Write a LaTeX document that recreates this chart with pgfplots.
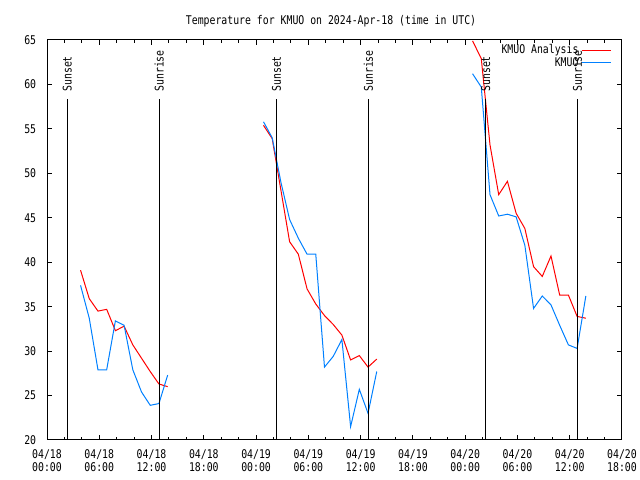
\documentclass[border=0pt]{standalone}
\usepackage{pgfplots}
\pgfplotsset{compat=1.18}
\usepackage{fontspec}
\newfontfamily\gp[FakeStretch=0.82]{DejaVu Sans Mono}
\newcommand\gpf{\gp\fontsize{7.2}{7.8}\selectfont}
\definecolor{gpred}{RGB}{255,0,0}
\definecolor{gpblue}{RGB}{0,128,255}
\begin{document}
\begin{tikzpicture}
\path[use as bounding box] (0,0) rectangle (384pt,288pt);
\begin{axis}[
  at={(28.2pt,24pt)}, anchor=south west,
  scale only axis, width=345pt, height=240pt,
  xmin=0, xmax=66, ymin=20, ymax=65,
  axis line style={line width=0.6pt},
  xtick={0,6,...,66},
  xticklabels={{04/18\\00:00},{04/18\\06:00},{04/18\\12:00},{04/18\\18:00},{04/19\\00:00},{04/19\\06:00},{04/19\\12:00},{04/19\\18:00},{04/20\\00:00},{04/20\\06:00},{04/20\\12:00},{04/20\\18:00}},
  minor xtick={0,2,...,66},
  ytick={20,25,...,65},
  tick align=inside,
  tick pos=both,
  major tick length=3pt, minor tick length=1.8pt,
  tick style={line width=0.6pt, black},
  xticklabel style={font=\gpf, align=center, yshift=-2.2pt},
  yticklabel style={font=\gpf, xshift=-3pt},
  /pgf/number format/assume math mode=true,
  title={Temperature for KMUO on 2024-Apr-18 (time in UTC)},
  title style={font=\gpf, at={(0.494,1)}, anchor=center, yshift=5.4pt},
  legend style={font=\gpf, at={(0.982,0.998)}, anchor=north east, draw=none, fill=none, inner sep=0pt, row sep=-3.4pt, legend cell align=right},
  legend plot pos=right,
  clip=true,
]
\addplot[gpred, line width=0.6pt] coordinates {(3.85,39.1)(4.85,35.9)(5.85,34.5)(6.85,34.7)(7.85,32.3)(8.85,32.8)(9.85,30.7)(10.85,29.2)(11.85,27.7)(12.85,26.3)(13.85,26.0)};
\addlegendentry{KMUO Analysis}
\addplot[gpblue, line width=0.6pt] coordinates {(3.85,37.4)(4.85,33.7)(5.85,27.9)(6.85,27.9)(7.85,33.4)(8.85,32.9)(9.85,27.9)(10.85,25.4)(11.85,23.9)(12.85,24.1)(13.85,27.3)};
\addlegendentry{KMUO}
\addplot[gpred, line width=0.6pt, forget plot] coordinates {(24.85,55.4)(25.85,53.9)(26.85,48.1)(27.85,42.3)(28.85,40.9)(29.85,37.0)(30.85,35.3)(31.85,34.0)(32.85,33.0)(33.85,31.8)(34.85,29.0)(35.85,29.5)(36.85,28.2)(37.85,29.1)};
\addplot[gpblue, line width=0.6pt, forget plot] coordinates {(24.85,55.8)(25.85,54.0)(26.85,49.0)(27.85,44.8)(28.85,42.7)(29.85,40.9)(30.85,40.9)(31.85,28.2)(32.85,29.4)(33.85,31.3)(34.85,21.5)(35.85,25.7)(36.85,23.0)(37.85,27.7)};
\addplot[gpred, line width=0.6pt, forget plot] coordinates {(48.85,64.9)(49.85,62.9)(50.85,53.2)(51.85,47.6)(52.85,49.1)(53.85,45.5)(54.85,43.8)(55.85,39.5)(56.85,38.4)(57.85,40.7)(58.85,36.3)(59.85,36.3)(60.85,33.9)(61.85,33.7)};
\addplot[gpblue, line width=0.6pt, forget plot] coordinates {(48.85,61.2)(49.85,59.7)(50.85,47.6)(51.85,45.2)(52.85,45.4)(53.85,45.1)(54.85,41.9)(55.85,34.8)(56.85,36.2)(57.85,35.2)(58.85,32.9)(59.85,30.7)(60.85,30.3)(61.85,36.2)};
% sunset / sunrise lines
\addplot[black, line width=0.6pt, forget plot] coordinates {(2.33,20)(2.33,58.36)};
\addplot[black, line width=0.6pt, forget plot] coordinates {(12.86,20)(12.86,58.36)};
\addplot[black, line width=0.6pt, forget plot] coordinates {(26.33,20)(26.33,58.36)};
\addplot[black, line width=0.6pt, forget plot] coordinates {(36.89,20)(36.89,58.36)};
\addplot[black, line width=0.6pt, forget plot] coordinates {(50.37,20)(50.37,58.36)};
\addplot[black, line width=0.6pt, forget plot] coordinates {(60.88,20)(60.88,58.36)};
\node[rotate=90, anchor=west, inner sep=0pt, font=\gpf] at (axis cs:2.33,59.15) {Sunset};
\node[rotate=90, anchor=west, inner sep=0pt, font=\gpf] at (axis cs:12.86,59.15) {Sunrise};
\node[rotate=90, anchor=west, inner sep=0pt, font=\gpf] at (axis cs:26.33,59.15) {Sunset};
\node[rotate=90, anchor=west, inner sep=0pt, font=\gpf] at (axis cs:36.89,59.15) {Sunrise};
\node[rotate=90, anchor=west, inner sep=0pt, font=\gpf] at (axis cs:50.37,59.15) {Sunset};
\node[rotate=90, anchor=west, inner sep=0pt, font=\gpf] at (axis cs:60.88,59.15) {Sunrise};
\node[rotate=90, font=\gpf] at (axis description cs:-0.0643,0.5) {degrees F};
\end{axis}
\end{tikzpicture}
\end{document}
